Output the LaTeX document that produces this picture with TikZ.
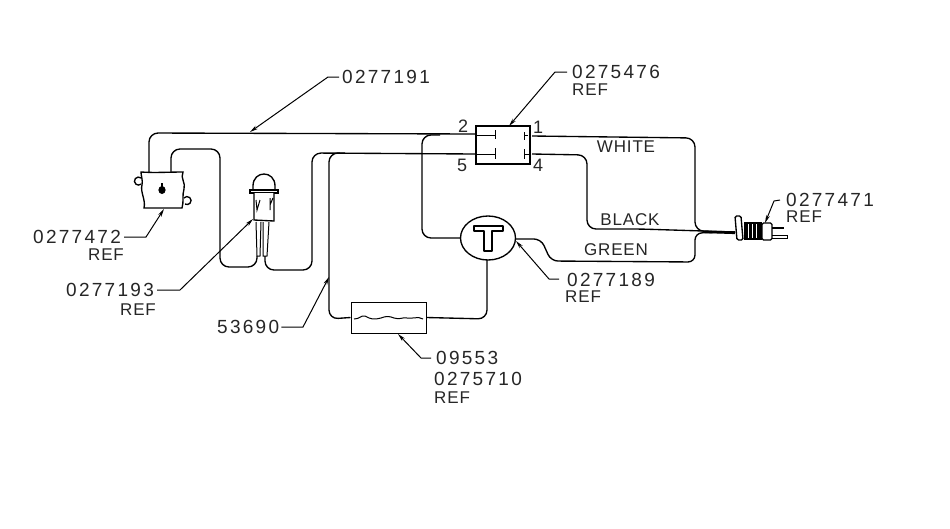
\documentclass[tikz,border=0pt]{standalone}
\usepackage{fontspec}
\setmainfont{Liberation Sans}
\newfontfamily\numfont[LetterSpace=12]{Liberation Sans}
\newfontfamily\wordfont[LetterSpace=5]{Liberation Sans}
\usetikzlibrary{arrows.meta,calc,shapes.geometric}
\tikzset{
  x=1pt,y=-1pt,
  wire/.style={draw=black,line width=1.35pt,rounded corners=9pt},
  part/.style={draw=black,line width=1.35pt},
  thin part/.style={draw=black,line width=1pt},
  leader/.style={draw=black,line width=1pt,-{Stealth[length=8pt,width=3.8pt]}},
  num/.style={anchor=west,inner sep=0pt,font=\numfont\fontsize{19}{19}\selectfont,text=black!85},
  ref/.style={anchor=west,inner sep=0pt,font=\wordfont\fontsize{17}{17}\selectfont,text=black!85},
  word/.style={inner sep=0pt,font=\wordfont\fontsize{17}{17}\selectfont,text=black!85},
  pin/.style={inner sep=0pt,font=\fontsize{18}{18}\selectfont,text=black!85},
}
\begin{document}
\begin{tikzpicture}
\useasboundingbox[fill=white] (0,0) rectangle (950,528);

% parts
\node[part,rectangle,minimum width=54pt,minimum height=38pt,inner sep=0pt] (sw) at (503,145) {};
\node[part,ellipse,minimum width=55pt,minimum height=44pt,inner sep=0pt] (th) at (488,238) {};
\node[thin part,rectangle,minimum width=75pt,minimum height=31pt,inner sep=0pt] (hb) at (388.5,317.5) {};
\coordinate (tb) at (149,172);
\coordinate (tb2) at (171,172);
\coordinate (la) at (257,256);
\coordinate (lb) at (265,256);
\coordinate (plug) at (735,232);
\coordinate (sw2) at (476,134);
\coordinate (sw5) at (476,154);
\coordinate (sw1) at (532,136);
\coordinate (sw4) at (532,154);
\coordinate (thl) at (460.5,238);
\coordinate (thb) at (487,260);
\coordinate (thr) at (515.5,239);

% switch contacts
\draw[thin part] (477,135) -- (495,135) (495,130) -- (495,139);
\draw[thin part] (477,154) -- (495,154) (495,148) -- (495,159);
\draw[thin part] (524,132) -- (524,140) (524,135) -- (528,135);
\draw[thin part] (524,149) -- (524,159) (524,154) -- (529,154);

% T symbol
\draw[part,line join=round] (474,226) -- (503,226) -- (503,231) -- (492,231) -- (492,251) -- (484,251) -- (484,231) -- (474,231) -- cycle;

% wave inside heater
\draw[thin part] (354,319) .. controls (360,319) and (361,315) .. (365,316) .. controls (370,319) and (374,320) .. (381,318) .. controls (386,316) and (389,316) .. (394,318) .. controls (400,320) and (402,317) .. (407,318) .. controls (412,319) and (418,316) .. (423,319);

% wires
\draw[wire] (tb) -- (149,133) -- (sw2);
\draw[wire] (tb2) -- (171,149) -- (220,149) -- (220,267) -- (257,267) -- (la);
\draw[wire] (lb) -- (265,270) -- (312,270) -- (312,153) -- (sw5);
\draw[wire] (hb.west) -- (329,319) -- (329,153) -- (345,153);
\draw[wire] (440,135) -- (422,135) -- (422,238) -- (thl);
\draw[wire] (thb) -- (487,319) -- (hb.east);
\draw[wire] (sw1) -- (695,138) -- (695,231) -- (plug);
\draw[wire] (sw4) -- (587,155) -- (587,229) -- (640,229) -- (plug);
\draw[wire,rounded corners=7pt] (thr) -- (541,239) -- (551,261) -- (695,262) -- (695,233) -- (plug);

% plug
\draw[line width=2.2pt] (705,232) -- (735,233);
\draw[part,fill=white,rounded corners=1.5pt] (735,216) -- (741,216) -- (743,240) -- (737,240) -- cycle;
\fill[black] (744,222) rectangle (762,240);
\foreach \xx in {748,752,756} \draw[white,line width=.7pt] (\xx,224) -- (\xx,238);
\draw[part,fill=white,rounded corners=1.5pt] (762,223) rectangle (772,240);
\draw[line width=1.6pt] (772,228) -- (784,228);
\draw[thin part] (772,235) -- (787,235) -- (787,238) -- (772,238);

% thermostat / control
\draw[part,fill=white] (141,172) .. controls (155,173) and (170,172) .. (183,172) .. controls (180,178) and (186,183) .. (184,189) .. controls (182,195) and (184,202) .. (182,208) -- (144,208) .. controls (146,200) and (140,192) .. (142,185) .. controls (143,180) and (141,176) .. (141,172) -- cycle;
\fill[black] (162,190) ellipse (3.6pt and 4pt);
\draw[line width=1.3pt] (162,183) -- (162,190);
\draw[part] (141,178) arc (50:310:4pt);
\draw[part] (184,198) arc (140:-120:4pt);

% lamp
\draw[part,fill=white] (253,190) -- (253,186) .. controls (253,170) and (275,170) .. (275,186) -- (275,190);
\draw[line width=1.6pt,fill=white] (250,190) rectangle (278,193);
\draw[part,fill=white] (254,193) -- (254,220) -- (274,221) -- (274,193);
\draw[thin part] (256,200) -- (257,210) -- (260,200) (270,198) -- (270,210) (273,198) -- (270,205);
\draw[thin part] (256,222) -- (257,256) -- (260,256) -- (261,222);
\draw[thin part] (263,222) -- (263,256) -- (267,256) -- (269,222);

% labels
\node[num] (l1) at (342,77) {0277191};
\node[num] (l2) at (572,72) {0275476};
\node[ref] (l2r) at (572,90) {REF};
\node[num] (l3) at (33,237) {0277472};
\node[ref] (l3r) at (88,255) {REF};
\node[num] (l4) at (66,290) {0277193};
\node[ref] (l4r) at (120,310) {REF};
\node[num] (l5) at (217,327) {53690};
\node[num] (l6) at (436,358) {09553};
\node[num] (l6b) at (434,379) {0275710};
\node[ref] (l6r) at (434,398) {REF};
\node[num] (l7) at (567,280) {0277189};
\node[ref] (l7r) at (565,297) {REF};
\node[num] (l8) at (786,200) {0277471};
\node[ref] (l8r) at (786,217) {REF};

\node[pin] (p2) at (463,126) {2};
\node[pin] (p5) at (462,165) {5};
\node[pin] (p1) at (538,127) {1};
\node[pin] (p4) at (538,165) {4};
\node[word] (w1) at (626,147) {WHITE};
\node[word] (w2) at (630,220) {BLACK};
\node[word] (w3) at (616,250) {GREEN};

% leaders
\coordinate (a1) at (250,132);
\coordinate (a2) at (509,126);
\coordinate (a3) at (164,209);
\coordinate (a4) at (253,219);
\coordinate (a5) at (329,277);
\coordinate (a6) at (398,334);
\coordinate (a7) at (516,241);
\coordinate (a8) at (765,223);
\draw[leader] (l1.west) ++(-3,0) -- (328,77) -- (a1);
\draw[leader] (l2.west) ++(-5,0) -- (555,72) -- (a2);
\draw[leader] (l3.east) ++(3,0) -- (146,237) -- (a3);
\draw[leader] (l4.east) ++(3,0) -- (180,290) -- (a4);
\draw[leader] (l5.east) ++(2,0) -- (303,327) -- (a5);
\draw[leader] (l6.west) ++(-5,0) -- (421,358) -- (a6);
\draw[leader] (l7.west) ++(-8,-1) -- (549,279) -- (a7);
\draw[leader] (l8.west) ++(-6,0) -- (774,201) -- (a8);
\end{tikzpicture}
\end{document}
